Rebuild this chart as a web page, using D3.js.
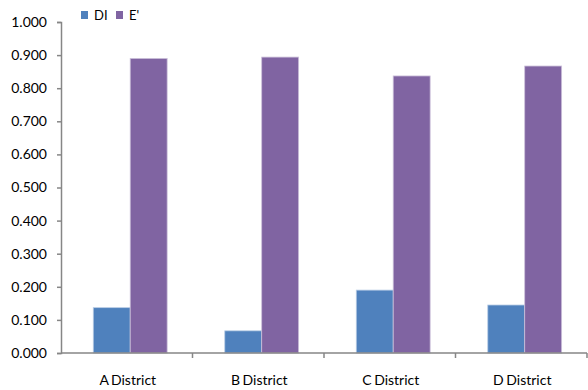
<!DOCTYPE html>
<html>
<head>
<meta charset="utf-8">
<script src="https://cdn.jsdelivr.net/npm/d3@7"></script>
<style>
  html, body { margin: 0; padding: 0; background: #fff; }
  svg text { font-family: Lato, "Open Sans", sans-serif; fill: #000; }
</style>
</head>
<body>
<svg id="chart" width="588" height="390"></svg>
<script>
// District categories and the two series plotted per district
const districts = ["A District", "B District", "C District", "D District"];
const seriesNames = ["DI", "E'"];
const diValues = [0.137, 0.067, 0.190, 0.145];
const eValues = [0.890, 0.894, 0.837, 0.867];
const yTicks = [0, 0.1, 0.2, 0.3, 0.4, 0.5, 0.6, 0.7, 0.8, 0.9, 1.0];
const colors = ["#4F81BD", "#8064A2"];

const svg = d3.select("#chart");
const margin = { left: 61, right: 1, top: 22, bottom: 37 };
const width = 588, height = 390;

const x = d3.scaleBand()
  .domain(districts)
  .range([margin.left, width - margin.right])
  .paddingInner(0).paddingOuter(0);

const inner = d3.scaleBand()
  .domain(seriesNames)
  .range([0, x.bandwidth()])
  .paddingInner(0)
  .paddingOuter(0.78)
  .align(0.56);

const y = d3.scaleLinear()
  .domain([0, 1])
  .range([height - margin.bottom, margin.top]);

const rows = districts.map((d, i) => ({ district: d, values: [diValues[i], eValues[i]] }));

// Bars
const groups = svg.append("g").selectAll("g")
  .data(rows).join("g")
  .attr("transform", d => `translate(${x(d.district)},0)`);

groups.selectAll("rect")
  .data(d => d.values.map((v, j) => ({ name: seriesNames[j], value: v, j })))
  .join("rect")
  .attr("x", d => inner(d.name))
  .attr("width", inner.bandwidth())
  .attr("y", d => y(d.value))
  .attr("height", d => y(0) - y(d.value))
  .attr("fill", d => colors[d.j])
  .attr("stroke", d => d.j === 0 ? "#b9cde5" : "#ccc1da")
  .attr("stroke-width", 0.8);

// Y axis
const yAxis = d3.axisLeft(y)
  .tickValues(yTicks)
  .tickFormat(d3.format(".3f"))
  .tickSize(4)
  .tickPadding(10);

const yg = svg.append("g")
  .attr("transform", `translate(${margin.left},0)`)
  .call(yAxis);
yg.select(".domain").attr("stroke", "#868686").attr("stroke-width", 1.5);
yg.selectAll(".tick line").attr("stroke", "#868686").attr("stroke-width", 1.5);
yg.selectAll(".tick text").attr("font-size", 14).attr("fill", "#000");

// X axis with tick marks at category boundaries
const xg = svg.append("g")
  .attr("transform", `translate(0,${y(0)})`);
xg.append("line")
  .attr("x1", margin.left).attr("x2", width - margin.right)
  .attr("stroke", "#868686").attr("stroke-width", 1.5);
const bounds = districts.map(d => x(d)).concat([x(districts[districts.length - 1]) + x.bandwidth()]);
xg.selectAll("line.bound")
  .data(bounds.slice(1)).join("line")
  .attr("class", "bound")
  .attr("x1", d => d).attr("x2", d => d)
  .attr("y1", 0).attr("y2", 5)
  .attr("stroke", "#868686").attr("stroke-width", 1.5);
xg.selectAll("text")
  .data(districts).join("text")
  .attr("x", d => x(d) + x.bandwidth() / 2 + 1)
  .attr("y", 32)
  .attr("text-anchor", "middle")
  .attr("font-size", 14)
  .style("word-spacing", "-1px")
  .text(d => d);

// Legend
const legend = svg.append("g").attr("transform", "translate(81,11)");
const legendItems = legend.selectAll("g")
  .data(seriesNames).join("g")
  .attr("transform", (d, i) => `translate(${i * 35},0)`);
legendItems.append("rect")
  .attr("width", 7).attr("height", 8)
  .attr("fill", (d, i) => colors[i]);
legendItems.append("text")
  .attr("x", 13).attr("y", 8.5)
  .attr("font-size", 13)
  .text(d => d);
</script>
</body>
</html>
